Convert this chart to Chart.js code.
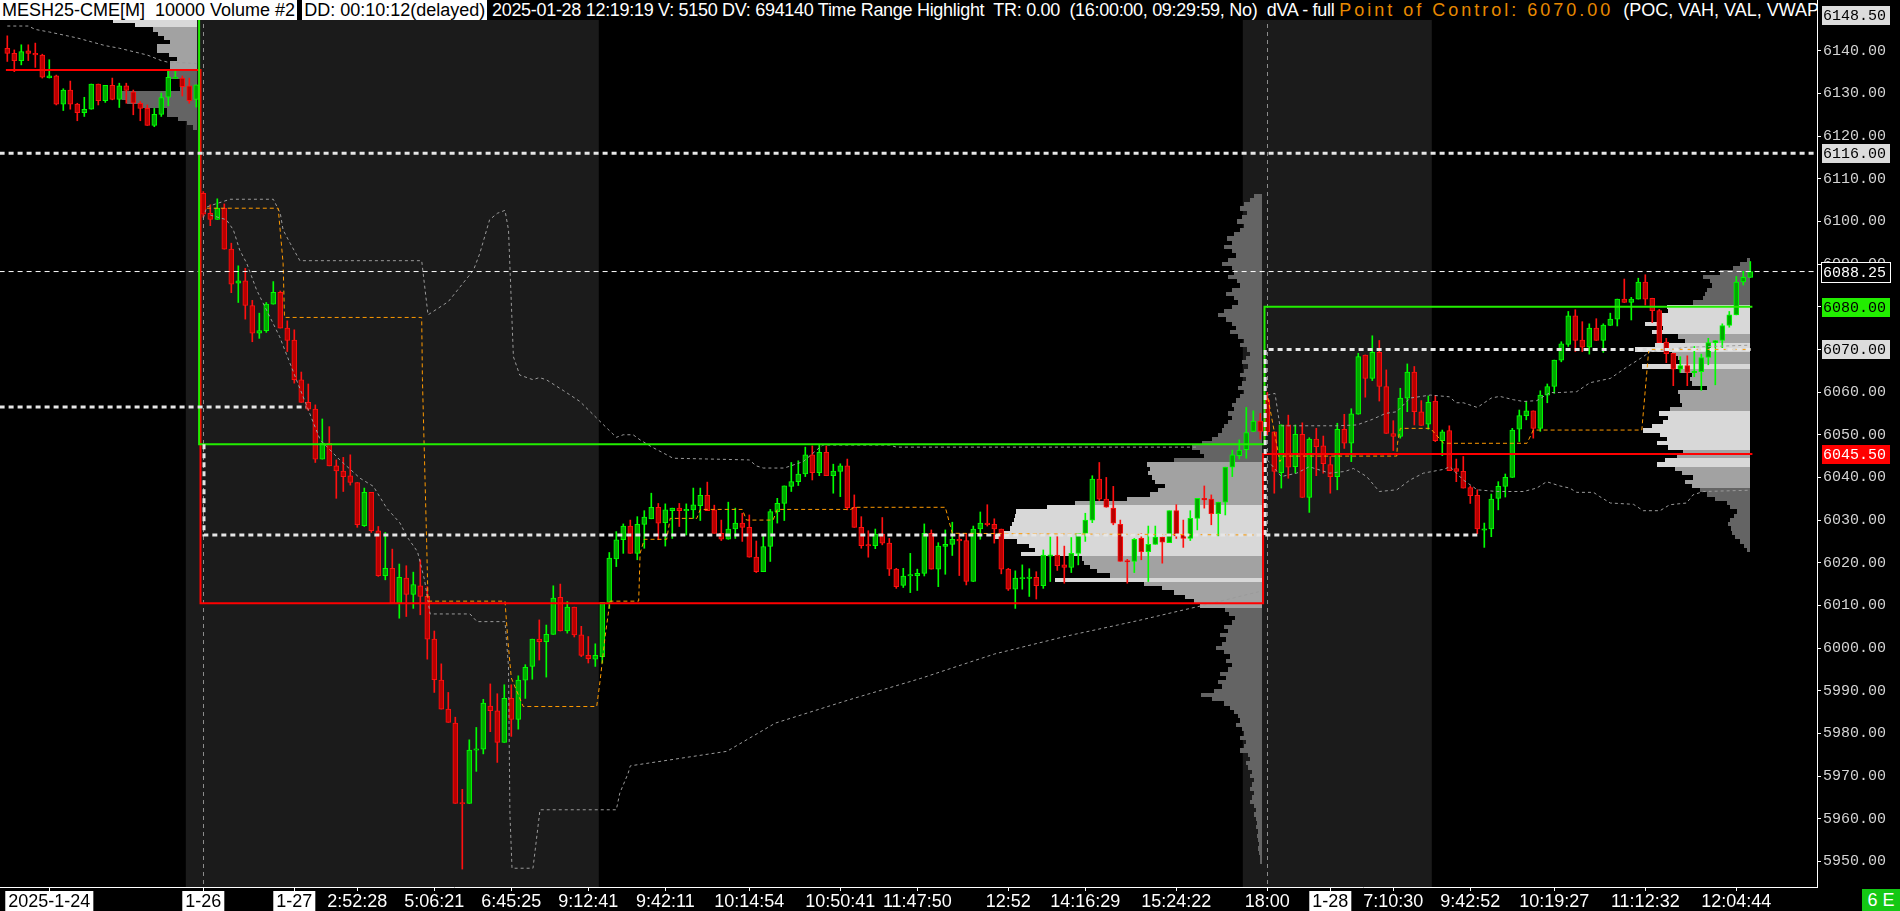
<!DOCTYPE html>
<html>
<head>
<meta charset="utf-8">
<script src="https://cdn.jsdelivr.net/npm/chart.js@4.4.1/dist/chart.umd.min.js"></script>
<style>
  html, body { margin: 0; padding: 0; background: #000; }
  #wrap { position: relative; width: 1900px; height: 911px; }
  #head { position: absolute; left: 0; top: 0; width: 1817px; height: 20px; overflow: hidden; background: #000; color: #fff;
          font: 18px "Liberation Sans", Arial, sans-serif; line-height: 20px; white-space: pre; }
  #head .box { background: #fff; color: #000; padding: 0 2px; }
  #head .mid { letter-spacing: -0.3px; }
  #head .poc { color: #e88a00; letter-spacing: 3px; }
  #corner { position: absolute; left: 1862px; top: 889px; width: 38px; height: 22px; background: #14c814; color: #fff;
            font: 18px "Liberation Sans", Arial, sans-serif; line-height: 22px; text-align: center; }
</style>
</head>
<body>
<div id="wrap">
  <canvas id="chart1" width="1900" height="911"></canvas>
  <div id="head"><span class="box">MESH25-CME[M]  10000 Volume #2</span> <span class="box">DD: 00:10:12(delayed)</span><span class="mid"> 2025-01-28 12:19:19 V: 5150 DV: 694140 Time Range Highlight  TR: 0.00  (16:00:00, 09:29:59, No)  dVA - full </span><span class="poc">Point of Control: 6070.00</span>  (POC, VAH, VAL, VWAP)</div>
  <div id="corner">6 E</div>
</div>
<script>
// 캔들 데이터 (봉 번호 0 ~ 249)
const open = [
  6140.6,6139.4,6137.7,6140.0,6139.4,6139.0,6133.7,6134.1,6127.5,6130.8,
  6127.5,6125.5,6126.3,6132.2,6128.3,6131.9,6128.6,6131.8,6130.4,6127.7,
  6126.5,6122.5,6125.1,6129.1,6133.5,6133.6,6131.8,6128.6,6106.6,6101.9,
  6100.5,6103.1,6093.5,6085.5,6086.1,6080.3,6073.8,6074.4,6080.6,6083.4,
  6075.0,6072.2,6062.9,6057.6,6056.0,6044.3,6048.0,6042.7,6041.5,6040.4,
  6038.8,6028.7,6036.5,6027.5,6017.0,6018.7,6010.5,6016.4,6012.6,6014.6,
  6012.1,6002.1,5992.5,5985.7,5982.4,5963.8,5963.6,5976.1,5976.3,5986.4,
  5985.3,5977.9,5988.2,5983.3,5992.5,5995.7,6002.1,6001.5,6003.2,6011.9,
  6004.0,6009.6,6003.1,5998.3,5997.4,5998.0,6010.7,6020.9,6025.4,6028.6,
  6022.2,6029.0,6030.3,6033.0,6029.4,6032.2,6032.8,6032.2,6032.4,6033.4,
  6035.8,6032.4,6026.9,6025.5,6027.9,6029.3,6028.3,6021.3,6017.9,6023.8,
  6032.0,6033.9,6037.9,6039.0,6040.8,6045.3,6041.1,6045.9,6040.4,6041.4,
  6042.7,6033.0,6028.3,6024.2,6024.0,6026.7,6024.6,6018.5,6014.7,6016.9,
  6017.0,6017.5,6026.9,6018.5,6023.8,6024.3,6025.5,6025.2,6015.6,6027.9,
  6029.3,6029.0,6027.9,6018.5,6013.8,6016.3,6016.4,6016.6,6014.6,6021.6,
  6021.8,6019.5,6018.9,6022.2,6026.9,6030.0,6039.6,6034.9,6032.8,6029.0,
  6020.4,6020.3,6025.7,6022.6,6024.3,6026.0,6024.7,6032.2,6026.5,6025.7,
  6030.4,6035.1,6034.9,6031.5,6034.2,6042.4,6045.1,6046.5,6050.8,6053.2,
  6058.2,6050.7,6041.1,6052.3,6042.5,6050.1,6035.3,6049.0,6047.4,6043.0,
  6040.2,6051.3,6048.0,6054.8,6068.7,6063.2,6069.3,6061.3,6050.3,6049.6,
  6058.6,6064.7,6055.4,6052.5,6057.9,6048.6,6051.0,6042.1,6041.4,6037.6,
  6035.8,6027.7,6027.9,6035.1,6037.9,6040.0,6051.3,6054.5,6055.6,6051.5,
  6059.3,6061.3,6067.5,6071.2,6077.9,6072.2,6070.5,6075.0,6072.1,6075.6,
  6077.1,6081.8,6081.0,6081.8,6085.8,6082.0,6079.1,6071.7,6069.1,6065.4,
  6066.2,6064.6,6064.8,6068.1,6071.6,6072.1,6075.6,6078.1,6085.8,6086.9
];
const high = [
  6143.5,6140.2,6141.4,6141.4,6141.8,6139.2,6137.9,6134.3,6131.1,6132.9,
  6127.7,6129.1,6132.2,6132.2,6131.9,6133.6,6132.4,6132.4,6130.8,6128.1,
  6127.3,6126.5,6130.1,6135.5,6135.5,6134.1,6133.6,6132.0,6107.0,6103.9,
  6105.3,6104.1,6094.9,6089.6,6089.0,6081.5,6078.5,6081.0,6085.9,6083.7,
  6076.7,6074.6,6064.7,6061.9,6057.0,6053.7,6051.9,6044.1,6044.7,6045.3,
  6038.8,6037.5,6036.5,6028.5,6027.1,6023.2,6019.7,6019.3,6017.8,6020.7,
  6014.4,6004.0,5996.3,5989.6,5983.8,5966.9,5978.5,5981.4,5988.0,5991.6,
  5989.3,5991.4,5991.4,5993.5,5996.1,6002.1,6006.6,6005.4,6014.6,6015.0,
  6010.9,6009.6,6005.1,6002.7,6001.0,6010.7,6022.4,6027.3,6029.1,6030.0,
  6030.8,6032.2,6036.3,6033.9,6033.8,6032.8,6033.9,6033.8,6037.5,6037.5,
  6038.9,6033.5,6030.0,6034.2,6032.8,6031.6,6031.2,6025.1,6026.3,6032.5,
  6035.1,6038.0,6043.5,6043.9,6047.1,6047.4,6047.6,6047.4,6043.1,6043.2,
  6044.3,6035.9,6030.8,6027.5,6027.9,6030.6,6025.7,6018.7,6018.7,6022.2,
  6018.5,6029.1,6027.7,6024.7,6027.7,6029.5,6026.9,6026.9,6028.6,6031.9,
  6033.6,6030.3,6027.9,6018.7,6018.1,6019.5,6018.6,6017.9,6023.0,6026.1,
  6026.1,6023.9,6025.9,6026.9,6031.6,6040.4,6043.5,6040.0,6037.9,6030.0,
  6020.8,6025.7,6026.9,6028.6,6028.6,6026.0,6032.2,6033.6,6030.0,6032.2,
  6035.1,6038.0,6035.9,6034.2,6042.4,6046.4,6048.8,6056.4,6055.6,6055.0,
  6059.9,6050.7,6052.3,6054.6,6052.3,6052.8,6049.3,6051.5,6049.7,6044.9,
  6052.7,6054.8,6056.1,6069.1,6068.7,6073.2,6072.1,6065.2,6053.3,6060.9,
  6066.6,6066.0,6058.0,6059.1,6059.2,6051.1,6052.1,6044.3,6044.9,6038.0,
  6037.1,6029.3,6036.1,6039.0,6040.8,6051.5,6055.8,6057.8,6055.6,6060.3,
  6061.9,6067.5,6071.8,6078.9,6079.3,6076.5,6076.0,6077.2,6076.0,6078.5,
  6081.8,6086.5,6082.2,6086.7,6087.5,6082.0,6079.4,6072.6,6069.1,6068.3,
  6068.5,6070.7,6068.9,6072.6,6072.1,6076.0,6078.9,6087.1,6088.3,6090.6
];
const low = [
  6137.5,6135.1,6136.7,6137.7,6136.1,6133.6,6133.6,6127.3,6126.0,6126.3,
  6123.6,6124.6,6126.3,6127.3,6127.9,6128.5,6126.7,6127.7,6125.0,6123.6,
  6122.5,6122.2,6124.6,6127.1,6133.5,6129.4,6127.7,6126.8,6101.0,6099.0,
  6100.5,6093.5,6083.3,6081.0,6077.1,6071.8,6072.6,6074.0,6080.6,6075.0,
  6069.5,6062.1,6057.6,6055.7,6043.5,6044.3,6042.7,6035.1,6036.7,6038.2,
  6028.3,6028.5,6027.1,6016.8,6016.0,6010.5,6007.0,6007.4,6009.3,6007.8,
  5997.4,5989.6,5985.7,5982.6,5963.6,5948.2,5963.6,5971.1,5975.2,5980.4,
  5973.2,5977.9,5979.3,5981.0,5988.2,5992.7,5997.2,5993.2,6003.2,6004.0,
  6003.5,6002.6,5998.0,5996.5,5995.7,5996.5,6009.3,6019.1,6022.2,6022.2,
  6020.7,6023.4,6030.3,6025.4,6023.9,6025.7,6028.5,6026.5,6030.4,6029.9,
  6032.2,6026.9,6025.2,6025.5,6025.7,6025.0,6021.3,6017.7,6017.9,6020.3,
  6029.3,6029.9,6036.7,6038.1,6040.2,6039.4,6040.4,6040.4,6036.3,6035.5,
  6032.4,6028.3,6023.4,6021.3,6023.3,6024.2,6017.0,6014.0,6014.2,6013.0,
  6013.5,6016.9,6018.5,6014.4,6017.3,6021.7,6017.0,6014.8,6015.6,6025.5,
  6028.6,6024.6,6017.4,6013.5,6009.3,6013.8,6012.1,6011.5,6014.0,6015.6,
  6018.2,6015.2,6017.7,6019.5,6025.0,6029.4,6034.6,6033.0,6028.9,6020.3,
  6015.2,6017.7,6020.7,6015.6,6024.3,6019.9,6024.7,6025.7,6023.6,6025.2,
  6027.7,6032.8,6028.9,6026.3,6031.2,6040.2,6044.3,6044.5,6050.7,6049.0,
  6050.0,6036.3,6037.5,6039.8,6041.0,6035.3,6031.8,6040.4,6041.0,6036.3,
  6037.1,6046.8,6043.7,6054.8,6058.8,6062.7,6057.9,6050.3,6046.3,6049.2,
  6055.4,6052.3,6052.2,6051.3,6048.4,6045.1,6041.6,6039.0,6037.5,6033.9,
  6026.8,6023.6,6026.1,6032.4,6035.4,6040.0,6048.4,6053.5,6049.2,6050.8,
  6057.5,6059.7,6067.1,6070.7,6069.5,6069.5,6068.9,6072.1,6069.3,6075.6,
  6075.5,6081.0,6076.9,6081.8,6080.4,6076.3,6071.6,6066.9,6061.5,6064.6,
  6061.5,6063.6,6060.4,6066.4,6061.7,6070.3,6075.2,6078.1,6085.1,6086.9
];
const close = [
  6139.4,6137.7,6139.8,6139.4,6139.0,6133.8,6134.1,6127.5,6130.8,6127.5,
  6125.5,6126.3,6132.2,6128.3,6131.9,6128.6,6131.8,6130.7,6127.7,6126.5,
  6122.5,6125.1,6129.0,6133.8,6133.8,6131.6,6128.3,6132.0,6101.7,6100.5,
  6103.1,6093.5,6085.3,6086.1,6080.3,6073.8,6074.4,6080.6,6083.4,6075.0,
  6072.1,6062.9,6057.6,6056.0,6044.3,6048.0,6042.7,6041.5,6040.2,6038.8,
  6028.9,6036.5,6027.5,6017.0,6018.7,6010.5,6016.6,6012.6,6014.9,6012.1,
  6002.1,5992.6,5985.7,5982.6,5963.6,5963.5,5976.1,5976.4,5987.1,5985.3,
  5977.9,5988.2,5983.3,5992.5,5995.5,6002.1,6001.5,6003.2,6011.7,6004.0,
  6009.6,6003.1,5998.3,5997.5,5998.3,6010.7,6021.1,6025.4,6028.6,6022.2,
  6029.0,6030.7,6033.0,6029.3,6032.4,6032.8,6032.2,6032.5,6033.6,6035.8,
  6032.2,6026.9,6025.5,6027.9,6029.3,6028.3,6021.3,6017.9,6023.8,6032.0,
  6033.9,6038.0,6039.0,6040.8,6045.3,6041.1,6045.9,6040.4,6041.5,6042.7,
  6032.9,6028.3,6024.0,6024.0,6026.7,6024.6,6018.5,6014.4,6016.9,6017.2,
  6017.5,6026.9,6018.5,6023.9,6024.3,6025.5,6025.1,6015.6,6027.9,6029.3,
  6028.9,6027.9,6018.5,6013.8,6016.4,6016.5,6016.6,6014.6,6021.8,6021.8,
  6019.3,6018.9,6022.2,6026.9,6030.0,6039.6,6034.9,6033.0,6029.3,6020.3,
  6020.3,6025.5,6022.6,6024.3,6026.0,6024.8,6032.2,6026.3,6025.7,6030.4,
  6035.1,6034.7,6031.5,6034.2,6042.4,6045.3,6046.4,6050.5,6053.2,6050.8,
  6050.7,6041.4,6052.3,6042.4,6050.1,6035.3,6049.0,6047.2,6043.2,6040.2,
  6051.3,6048.0,6054.9,6068.3,6063.2,6069.3,6061.3,6050.3,6049.6,6058.6,
  6064.7,6055.4,6052.2,6057.6,6048.6,6050.7,6041.6,6041.4,6037.5,6035.7,
  6027.9,6027.9,6034.9,6037.9,6040.0,6051.1,6054.5,6055.6,6051.5,6059.3,
  6061.3,6067.5,6071.3,6077.9,6072.1,6070.5,6075.0,6072.1,6075.7,6077.1,
  6081.8,6081.0,6081.8,6085.8,6081.8,6079.1,6071.6,6069.0,6065.4,6066.2,
  6064.6,6064.8,6068.1,6071.6,6072.1,6075.6,6078.1,6085.8,6086.9,6088.25
];

// x축 눈금 (봉 번호, 라벨)
const tickIdx  = [6, 28, 41, 50, 61, 72, 83, 94, 106, 119, 130, 143, 154, 167, 180, 189, 198, 209, 221, 234, 247];
const tickText = ['2025-1-24','1-26','1-27','2:52:28','5:06:21','6:45:25','9:12:41','9:42:11','10:14:54','10:50:41',
                  '11:47:50','12:52','14:16:29','15:24:22','18:00','1-28','7:10:30','9:42:52','10:19:27','11:12:32','12:04:44'];
const dateText = ['2025-1-24','1-26','1-27','1-28'];
const yTicks = [5950,5960,5970,5980,5990,6000,6010,6020,6030,6040,6050,6060,6070,6080,6090,6100,6110,6120,6130,6140];

// 가격 표시 박스
const markPrices = [6148.5, 6116, 6088.25, 6080, 6070, 6045.5];
const markKinds  = ['gray', 'gray', 'last', 'vah', 'gray', 'val'];

// 세션 구분 / 하이라이트 구간 (봉 번호)
const sessionStarts = [28, 180];
const highlightRanges = [[25.5, 84.5], [176.5, 203.5]];

// 볼륨 프로파일 (위 가격부터 1pt 간격)
const prof24Top = 6147;
const prof24Vol = [84,62,44,39,33,27,40,40,28,20,27,27,30,30,17,17,17,75,75,70,57,30,30,19,10,4];
const prof27Top = 6106;
const prof27Vol = [
  8,12,18,22,15,20,25,18,22,28,
  35,30,38,30,26,34,40,30,28,34,
  25,22,30,36,28,24,30,38,44,36,
  30,26,32,24,18,22,15,12,16,20,
  14,18,22,16,20,24,18,22,26,30,
  28,34,30,34,38,40,44,50,60,70,
  62,58,88,115,112,114,110,107,97,104,
  112,135,187,215,246,247,248,250,252,262,
  268,245,233,227,241,180,178,172,165,152,
  207,118,100,88,77,68,62,37,33,27,
  30,38,34,42,36,40,46,38,32,36,
  30,34,42,36,44,40,48,61,50,38,
  32,28,24,22,26,20,18,22,16,18,
  22,14,12,16,14,10,12,8,10,12,
  8,10,12,8,6,8,6,5,6,4,
  5,4,3,4,3,2,2
];
const prof28Top = 6091;
const prof28Vol = [
  3,10,17,30,47,40,38,43,45,47,
  57,83,82,88,90,105,87,98,72,65,
  95,115,78,72,70,108,70,58,60,58,
  43,72,70,70,68,80,91,82,87,98,
  107,90,83,93,82,67,73,85,93,75,
  68,57,65,58,50,43,35,23,20,13,
  16,20,22,19,18,15,10,6,3
];

// VAH / VAL / POC (봉 번호, 가격)
const vahLine = [[27.4,6160],[27.4,6047.75],[179.6,6047.75],[179.6,6080],[249.3,6080]];
const valLine = [[-0.2,6135.5],[27.6,6135.5],[27.6,6010.5],[179.4,6010.5],[179.4,6045.5],[249.3,6045.5]];
const poc23 = [[-1.1,6116],[258.6,6116]];
const poc24 = [[-1.1,6056.5],[42.7,6056.5]];
const poc27 = [[28.1,6047.75],[28.1,6026.5],[210,6026.5]];
const poc28 = [[179.7,6026.5],[179.7,6070],[249.3,6070]];
const lastPrice = [[-1.1,6088.25],[258.6,6088.25]];

// 발전 POC (주황 점선)
const dpoc27 = [[28.5,6103.1],[38.7,6103.1],[39.4,6090.2],[39.6,6077.5],[59.2,6077.5],[59.3,6063.2],[59.9,6025.3],
  [60.1,6011.0],[71.1,6011.0],[71.5,6002],[72,5993],[73.7,5986.3],[84.2,5986.3],[84.7,5992.5],[85.4,6002.7],[86.1,6011.0],
  [90.2,6011.0],[90.4,6022.2],[91,6025.5],[94.2,6025.5],[94.7,6030.4],[98.5,6030.4],[99,6032.5],[105,6032.5],
  [105.6,6030.0],[109.4,6030.0],[110,6032.5],[120.5,6032.5],[121,6033.0],[134,6033.0],[135,6026.9],[179,6026.5]];
const dpoc28 = [[180.1,6058.6],[181.8,6043.7],[182.3,6045.0],[198.5,6045.0],[198.6,6048.0],[199,6051.5],[203.3,6051.5],
  [205.2,6048.0],[217.1,6048.0],[218,6051.1],[233.5,6051.1],[234.5,6070],[249,6070]];

// VWAP 밴드 (회색 점선)
const band24 = [[0,6145.8],[3,6145.8],[4,6145.0],[6,6144.4],[8,6143.7],[10,6143.0],[12,6142.1],[14,6141.2],[16,6140.6],
  [18,6139.8],[20,6139.0],[22,6137.7],[23,6137.3],[25,6137.2],[27,6137.0]];
const band27a = [[28,6100.8],[28.5,6103.4],[29.4,6103.9],[30.9,6104.7],[31.8,6105.2],[38,6105.2],[39,6101.9],[39.4,6098.0],
  [40.4,6094.9],[41.8,6090.8],[59.2,6090.8],[60.1,6078.1],[63,6081.2],[66.6,6088.6],[67.5,6092.5],[68.9,6100.4],[70,6101.9],
  [71.1,6102.6],[71.6,6098],[72.3,6068.3],[73.2,6064.0],[75.1,6062.9],[76,6063.4],[77,6062.9],[79.4,6060.4],[81.8,6057.8],
  [84.2,6053.9],[86,6051],[87,6049.4],[88,6050],[89.4,6050],[90.4,6048.8],[92,6047.2],[94.2,6045.3],[95.1,6044.5],[106,6044.1],
  [107,6042.7],[108,6042.2],[111,6042.2],[113.7,6043.7],[115.6,6046.4],[116.5,6047.6],[126,6047.6],[127,6047.1],[170,6047.1]];
const band27b = [[29,6101.5],[31.3,6100.4],[32.3,6098],[33.2,6093.3],[34.2,6090.2],[35.6,6084.0],[38.9,6073.0],[41.3,6062.9],
  [44.7,6048.8],[47.5,6044.1],[50.4,6039.8],[52.3,6037.9],[54.2,6032.8],[56.1,6029.3],[57.1,6026.1],[58.6,6022.6],[59.6,6016],
  [60.4,6008],[66.1,6008],[67.1,6006.2],[71.1,6006.2],[71.6,5995.7],[71.8,5961.3],[72.1,5948.4],[75.1,5948.4],[76.1,5962.1],
  [87,5962.1],[87.5,5966],[88.7,5970.7],[89,5972.4],[102.8,5975.8],[109.7,5982.4],[120.1,5987.8],[130.5,5992.9],[141,5998.6],
  [151.3,6002.8],[161.7,6006.5],[172.1,6010.5],[179,6013.3]];
const band28a = [[180,6059.3],[181.1,6059.7],[181.8,6052.1],[190,6052.1],[192.8,6052.3],[195,6053.6],[196.9,6055],[198.5,6055.4],
  [200.4,6058.6],[203.3,6059.3],[206,6058.9],[207,6057.5],[208,6057.5],[210,6056.4],[212,6058.6],[213.2,6059],[215.2,6058.2],
  [216.6,6057.8],[218.5,6058],[220.4,6059.9],[221.8,6059.9],[224.2,6060.1],[226.1,6062.2],[229,6063.2],[231.3,6065.8],
  [233.7,6068.3],[234.7,6069.5],[240,6070.5],[249,6071]];
const band28b = [[180,6044.1],[182,6040.2],[184.2,6041],[186,6042.5],[188.9,6041],[191.1,6041.4],[192.3,6042.1],[194.2,6040.2],
  [196,6036.7],[198.5,6037.1],[200.4,6039.4],[202.3,6041],[205.2,6041.9],[206.1,6042.5],[208,6039.4],[210,6037.1],[212.8,6036.7],
  [216.6,6036.7],[218.5,6037.5],[219.9,6039],[221.8,6038],[223.2,6037.5],[224.2,6036.5],[226.6,6036.5],[227.5,6035.5],[229,6034],
  [232.3,6033.7],[233.7,6032.2],[236.1,6032.2],[237.5,6033.6],[239.9,6034],[240.8,6035.9],[242.3,6036.7],[249,6037]];

const UP_FILL = '#00a800', UP_LINE = '#00ff00', DN_FILL = '#b80000', DN_LINE = '#ff1010';

const idx = open.map((v, i) => i);
const isUp = idx.map(i => close[i] >= open[i]);

// 몸통이 너무 얇으면 최소 두께
const bodyData = idx.map(i => {
  let a = open[i], b = close[i];
  if (Math.abs(a - b) < 0.3) { const m = (a + b) / 2; a = m - 0.15; b = m + 0.15; }
  return { x: i, y: [a, b] };
});
const wickData = idx.map(i => ({ x: i, y: [low[i], high[i]] }));

function lineSet(points, color, width, dash, order) {
  return {
    type: 'line',
    data: points.map(p => ({ x: p[0], y: p[1] })),
    borderColor: color, borderWidth: width, borderDash: dash,
    pointRadius: 0, tension: 0, fill: false, order: order
  };
}

// 프로파일 색 구분용 가치영역
const profiles = [
  { top: prof24Top, vols: prof24Vol, at: 27.1, width: 84,  va: [6135.5, 6152] },
  { top: prof27Top, vols: prof27Vol, at: 179.2, width: 268, va: [6009.5, 6043.5] },
  { top: prof28Top, vols: prof28Vol, at: 249.0, width: 115, va: [6037.5, 6080] }
];

function drawProfile(ctx, xs, ys, p) {
  const right = xs.getPixelForValue(p.at);
  const maxV = Math.max(...p.vols);
  p.vols.forEach((v, k) => {
    const price = p.top - k;
    const w = v / maxV * p.width;
    const top = Math.round(ys.getPixelForValue(price + 0.5));
    const bot = Math.round(ys.getPixelForValue(price - 0.5));
    const inVA = price >= p.va[0] && price <= p.va[1];
    ctx.fillStyle = inVA ? (v >= 0.7 * maxV ? '#d8d8d8' : '#a2a2a2') : '#646464';
    ctx.fillRect(Math.round(right - w), top, Math.round(w), bot - top);
  });
}

const markStyle = {
  gray: { bg: '#dcdcdc', fg: '#000000', line: null },
  last: { bg: '#000000', fg: '#ffffff', line: '#ffffff' },
  vah:  { bg: '#22ee00', fg: '#000000', line: null },
  val:  { bg: '#ff0000', fg: '#ffffff', line: null }
};

const backdrop = {
  id: 'backdrop',
  beforeDatasetsDraw(chart) {
    const { ctx, chartArea: a, scales: { x, y } } = chart;
    ctx.save();
    ctx.beginPath();
    ctx.rect(a.left, a.top, a.right - a.left, a.bottom - a.top);
    ctx.clip();
    // 시간대 하이라이트
    ctx.fillStyle = '#1b1b1b';
    highlightRanges.forEach(r => {
      const x0 = x.getPixelForValue(r[0]), x1 = x.getPixelForValue(r[1]);
      ctx.fillRect(x0, a.top, x1 - x0, a.bottom - a.top);
    });
    // 볼륨 프로파일
    profiles.forEach(p => drawProfile(ctx, x, y, p));
    // 세션 구분선
    ctx.strokeStyle = '#8c8c8c';
    ctx.lineWidth = 1;
    ctx.setLineDash([4, 4]);
    sessionStarts.forEach(s => {
      const px = Math.round(x.getPixelForValue(s)) + 0.5;
      ctx.beginPath();
      ctx.moveTo(px, a.top);
      ctx.lineTo(px, a.bottom);
      ctx.stroke();
    });
    ctx.restore();
  },
  afterDraw(chart) {
    const { ctx, scales: { y } } = chart;
    ctx.save();
    ctx.font = '15px "Liberation Mono", "DejaVu Sans Mono", monospace';
    ctx.textBaseline = 'middle';
    markPrices.forEach((p, k) => {
      const st = markStyle[markKinds[k]];
      const py = Math.round(y.getPixelForValue(p));
      ctx.fillStyle = st.bg;
      ctx.fillRect(1822, py - 9, 68, 19);
      if (st.line) {
        ctx.strokeStyle = st.line;
        ctx.lineWidth = 1;
        ctx.strokeRect(1821.5, py - 9.5, 69, 20);
      }
      ctx.fillStyle = st.fg;
      ctx.fillText(p.toFixed(2), 1823, py + 1);
    });
    ctx.restore();
  }
};

Chart.defaults.font.family = '"Liberation Sans", Arial, sans-serif';

const chart1 = new Chart(document.getElementById('chart1'), {
  type: 'bar',
  data: {
    datasets: [
      { data: wickData, backgroundColor: idx.map(i => isUp[i] ? UP_LINE : DN_LINE), borderWidth: 0,
        barThickness: 1, grouped: false, order: 30 },
      { data: bodyData, backgroundColor: idx.map(i => isUp[i] ? UP_FILL : DN_FILL),
        borderColor: idx.map(i => isUp[i] ? UP_LINE : DN_LINE), borderWidth: 1, borderSkipped: false,
        barThickness: 5, grouped: false, order: 29 },
      lineSet(band24, '#9a9a9a', 1, [3, 3], 6),
      lineSet(band27a, '#9a9a9a', 1, [3, 3], 6),
      lineSet(band27b, '#9a9a9a', 1, [3, 3], 6),
      lineSet(band28a, '#9a9a9a', 1, [3, 3], 6),
      lineSet(band28b, '#9a9a9a', 1, [3, 3], 6),
      lineSet(dpoc27, '#ff9a00', 1, [4, 3], 5),
      lineSet(dpoc28, '#ff9a00', 1, [4, 3], 5),
      lineSet(lastPrice, '#ffffff', 1, [5, 4], 4),
      lineSet(vahLine, '#22ee00', 2, [], 3),
      lineSet(valLine, '#ff0000', 2, [], 3),
      lineSet(poc23, '#e6e6e6', 3, [5, 4], 2),
      lineSet(poc24, '#e6e6e6', 3, [5, 4], 2),
      lineSet(poc27, '#e6e6e6', 3, [5, 4], 2),
      lineSet(poc28, '#e6e6e6', 3, [5, 4], 2)
    ]
  },
  options: {
    responsive: false,
    devicePixelRatio: 1,
    animation: false,
    layout: { padding: 0 },
    plugins: { legend: { display: false }, tooltip: { enabled: false }, title: { display: false } },
    scales: {
      x: {
        type: 'linear',
        min: -1.043,
        max: 258.529,
        offset: false,
        grid: { drawOnChartArea: false, drawTicks: true, tickLength: 4, color: '#ffffff', offset: false },
        border: { display: true, color: '#ffffff', width: 1 },
        afterBuildTicks: s => { s.ticks = tickIdx.map(v => ({ value: v })); },
        afterFit: s => { s.height = 24; s.paddingLeft = 0; s.paddingRight = 0; },
        ticks: {
          autoSkip: false, maxRotation: 0, minRotation: 0, padding: 0,
          font: { size: 18 },
          callback: v => tickText[tickIdx.indexOf(v)],
          color: c => dateText.includes(tickText[c.index]) ? '#000000' : '#ffffff',
          showLabelBackdrop: true,
          backdropColor: c => dateText.includes(tickText[c.index]) ? '#ffffff' : 'rgba(0,0,0,0)',
          backdropPadding: { x: 3, y: 0 }
        }
      },
      y: {
        type: 'linear',
        position: 'right',
        min: 5944,
        max: 6151.9,
        grid: { drawOnChartArea: false, drawTicks: true, tickLength: 4, color: '#ffffff' },
        border: { display: true, color: '#ffffff', width: 1 },
        afterBuildTicks: s => { s.ticks = yTicks.map(v => ({ value: v })); },
        afterFit: s => { s.width = 83; s.paddingTop = 0; s.paddingBottom = 0; },
        ticks: {
          autoSkip: false, padding: 2,
          color: '#d4d4d4',
          font: { family: '"Liberation Mono", "DejaVu Sans Mono", monospace', size: 15 },
          callback: v => Number(v).toFixed(2)
        }
      }
    }
  },
  plugins: [backdrop]
});
</script>
</body>
</html>
